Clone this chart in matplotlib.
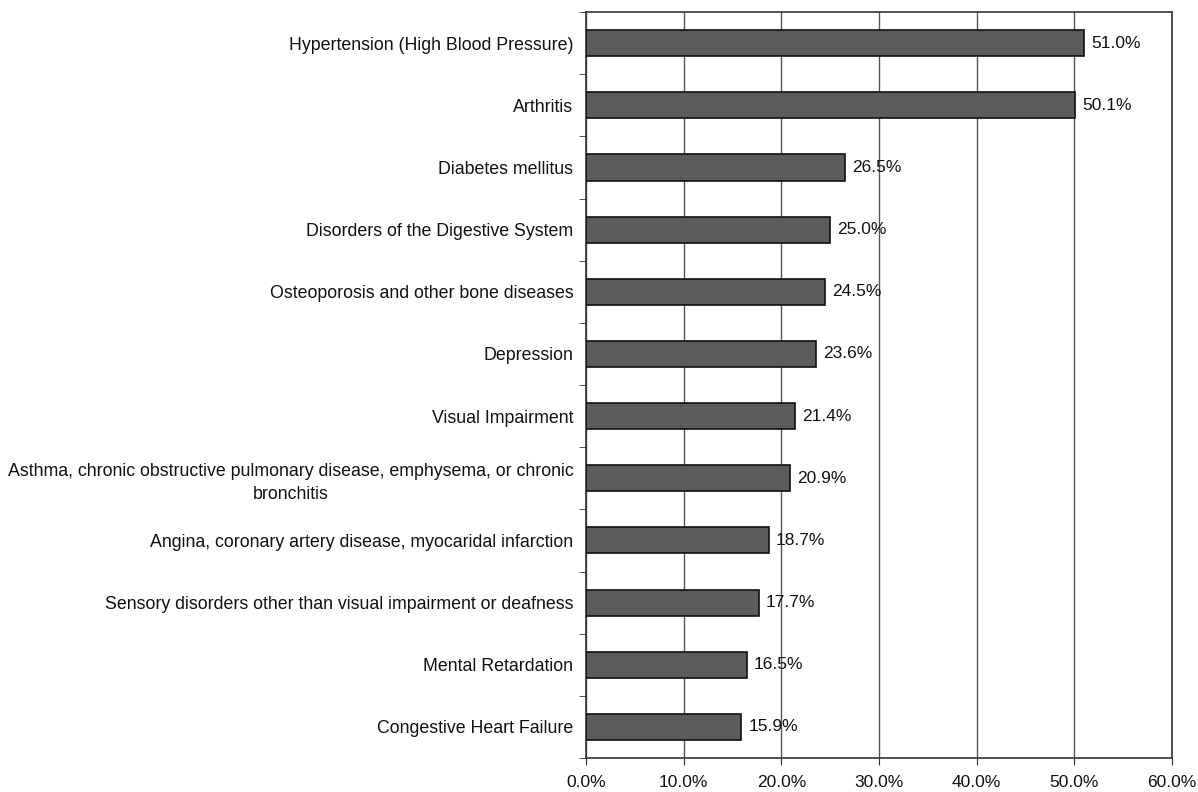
import matplotlib
matplotlib.use("Agg")
import matplotlib.pyplot as plt
import numpy as np
from matplotlib.ticker import FixedLocator, PercentFormatter

conditions = [
    "Hypertension (High Blood Pressure)",
    "Arthritis",
    "Diabetes mellitus",
    "Disorders of the Digestive System",
    "Osteoporosis and other bone diseases",
    "Depression",
    "Visual Impairment",
    "Asthma, chronic obstructive pulmonary disease, emphysema, or chronic\nbronchitis",
    "Angina, coronary artery disease, myocaridal infarction",
    "Sensory disorders other than visual impairment or deafness",
    "Mental Retardation",
    "Congestive Heart Failure",
]
prevalence = [51.0, 50.1, 26.5, 25.0, 24.5, 23.6, 21.4, 20.9, 18.7, 17.7, 16.5, 15.9]
x_ticks = [0, 10, 20, 30, 40, 50, 60]

plt.rcParams["font.family"] = ["Liberation Sans", "DejaVu Sans"]

fig = plt.figure(figsize=(11.98, 7.92), dpi=100)
ax = fig.add_axes([0.4891, 0.0429, 0.9783 - 0.4891, 0.9848 - 0.0429])

y = np.arange(len(conditions))
bars = ax.barh(y, prevalence, height=0.42, color="#5c5c5c", edgecolor="#111111",
               linewidth=1.2, zorder=3)

for rect, v in zip(bars, prevalence):
    ax.annotate(f"{v:.1f}%", (rect.get_width(), rect.get_y() + rect.get_height() / 2),
                xytext=(5, 0), textcoords="offset points", va="center", ha="left",
                fontsize=12.5, color="#111111")

ax.set_xlim(0, 60)
ax.set_ylim(len(conditions) - 0.5, -0.5)
ax.set_xticks(x_ticks)
ax.xaxis.set_major_formatter(PercentFormatter(decimals=1))
ax.set_yticks(y)
ax.set_yticklabels(conditions, fontsize=12.8, color="#111111", ha="right")
ax.tick_params(axis="y", which="major", length=0, pad=9)
ax.yaxis.set_minor_locator(FixedLocator(np.arange(-0.5, len(conditions), 1.0)))
ax.tick_params(axis="y", which="minor", length=5, direction="out", color="#333333")
ax.tick_params(axis="x", length=5, direction="out", pad=7, labelsize=12.5,
               labelcolor="#111111", color="#333333")
for lbl in ax.get_yticklabels():
    lbl.set_multialignment("center")
    lbl.set_linespacing(1.45)

ax.grid(axis="x", color="#555555", linewidth=1.0, zorder=0)
ax.set_axisbelow(True)
for side, sp in ax.spines.items():
    sp.set_color("#333333")
    sp.set_linewidth(1.2)

fig.savefig("out.png", dpi=100, facecolor="white")
